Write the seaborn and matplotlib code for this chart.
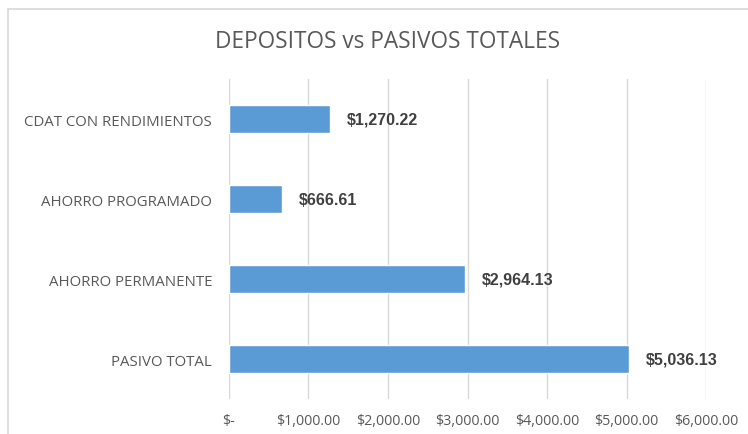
import pandas as pd
import numpy as np
import matplotlib.pyplot as plt
import seaborn as sns
from matplotlib.patches import Rectangle
from matplotlib.ticker import FuncFormatter

categorias = ['CDAT CON RENDIMIENTOS', 'AHORRO PROGRAMADO', 'AHORRO PERMANENTE', 'PASIVO TOTAL']
valores = [1270.22, 666.61, 2964.13, 5036.13]
xticks = [0, 1000, 2000, 3000, 4000, 5000, 6000]

df = pd.DataFrame({'Categoria': categorias, 'Valor': valores})

sns.set_style('white')
plt.rcParams['font.family'] = ['Open Sans', 'DejaVu Sans']

fig = plt.figure(figsize=(7.48, 4.35), dpi=100)
ax = fig.add_axes([0.306, 0.080, 0.638, 0.736])

# chart frame like the excel export
fig.patches.append(Rectangle((8 / 748, -0.1), 1.2, 1 - 10 / 435 + 0.1, transform=fig.transFigure,
                             fill=False, edgecolor='#d9d9d9', linewidth=1.2))

sns.barplot(data=df, x='Valor', y='Categoria', order=categorias, color='#5B9BD5',
            width=0.35, saturation=1, ax=ax, zorder=3)

ax.set_xlim(0, 6000)
ax.set_ylim(3.5, -0.5)
ax.set_xticks(xticks)

def fmt(v, pos):
    if v == 0:
        return '$-'
    return '${:,.2f}'.format(v)

ax.xaxis.set_major_formatter(FuncFormatter(fmt))
ax.grid(axis='x', color='#d9d9d9', linewidth=1, zorder=0)
ax.grid(axis='y', visible=False)
for s in ax.spines.values():
    s.set_visible(False)
ax.tick_params(axis='both', length=0, labelcolor='#595959')
ax.tick_params(axis='x', pad=10, labelsize=10.3)
ax.tick_params(axis='y', pad=12, labelsize=10.8)
ax.set_xlabel('')
ax.set_ylabel('')

for i, v in enumerate(valores):
    ax.text(v + 210, i, '${:,.2f}'.format(v), va='center', ha='left',
            fontsize=11.5, fontweight='bold', color='#404040', family='Liberation Sans')

fig.text(0.5 * (215 + 560) / 748, 1 - 42 / 435, 'DEPOSITOS vs PASIVOS TOTALES', ha='center', va='center',
         fontsize=16.3, color='#595959')

fig.savefig('out.png', dpi=100)
